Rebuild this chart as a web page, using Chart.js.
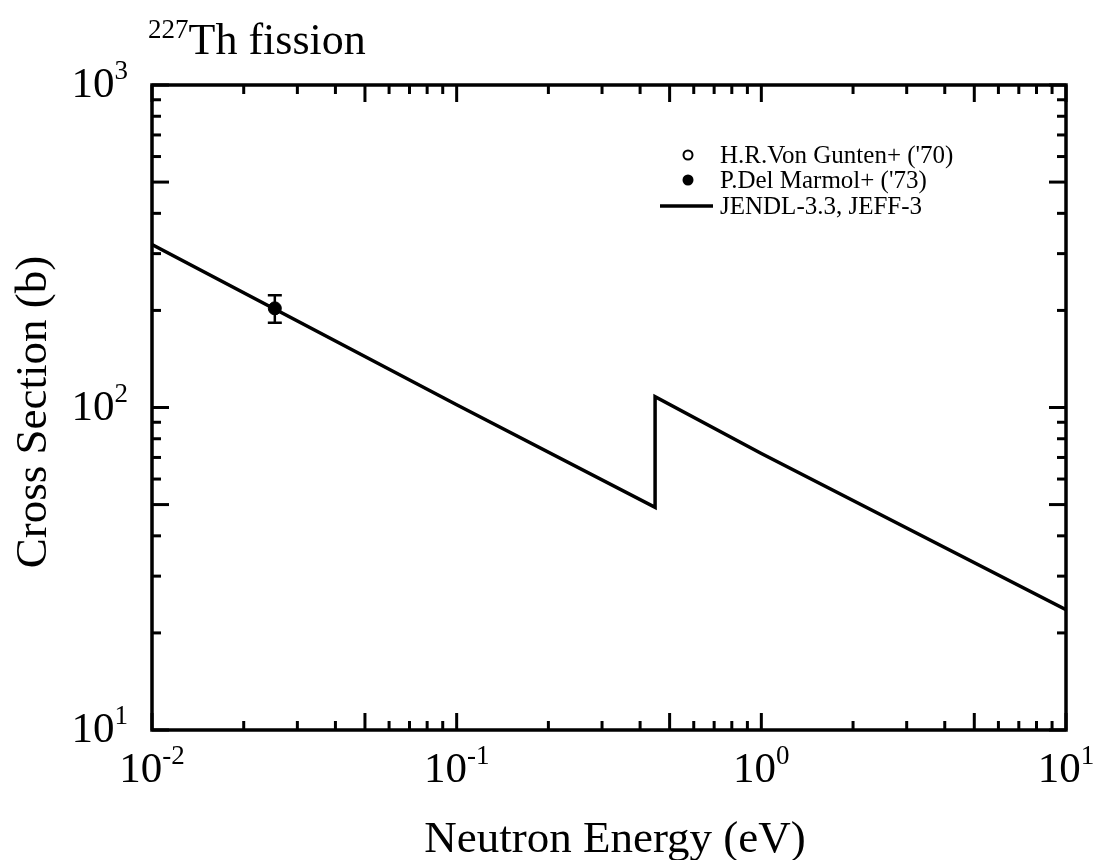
<!DOCTYPE html>
<html><head><meta charset="utf-8">
<script src="https://cdn.jsdelivr.net/npm/chart.js@4"></script>
<style>html,body{margin:0;padding:0;background:#fff}canvas{display:block}</style>
</head><body>
<canvas id="c" width="1110" height="860"></canvas>
<script>
'use strict';
// evaluated curve JENDL-3.3 / JEFF-3 (eV, b)
const EVAL_E=[0.01,0.1,0.448,0.448,1,10];
const EVAL_XS=[320,102,49,108,72,23.6];
// measured points
const MARMOL_E=[0.0253],MARMOL_XS=[203],MARMOL_ERR=[20];
const GUNTEN_E=[],GUNTEN_XS=[];
const X_DEC=[-2,-1,0,1],Y_DEC=[1,2,3];
const MINOR=[2,3,4,5,6,7,8,9];
const LEG=['H.R.Von Gunten+ (\'70)','P.Del Marmol+ (\'73)','JENDL-3.3, JEFF-3'];
const SERIF='"Liberation Serif","DejaVu Serif",serif';

const pts=(xs,ys)=>xs.map((x,i)=>({x,y:ys[i]}));

const frame={id:'frame',afterDatasetsDraw(ch){
  const c=ch.ctx,a=ch.chartArea,sx=ch.scales.x,sy=ch.scales.y;
  c.save();c.strokeStyle='#000';c.fillStyle='#000';
  // error bars
  c.lineWidth=2.5;
  MARMOL_E.forEach((e,i)=>{
    const px=sx.getPixelForValue(e),t=sy.getPixelForValue(MARMOL_XS[i]+MARMOL_ERR[i]),b=sy.getPixelForValue(MARMOL_XS[i]-MARMOL_ERR[i]);
    c.beginPath();c.moveTo(px,t);c.lineTo(px,b);c.moveTo(px-7,t);c.lineTo(px+7,t);c.moveTo(px-7,b);c.lineTo(px+7,b);c.stroke();
  });
  // ticks
  c.lineWidth=3;
  const tick=(x0,y0,dx,dy)=>{c.beginPath();c.moveTo(x0,y0);c.lineTo(x0+dx,y0+dy);c.stroke();};
  X_DEC.forEach(d=>{
    [1].concat(MINOR).forEach(m=>{
      const v=m*Math.pow(10,d);if(v<sx.min*0.999||v>sx.max*1.001)return;
      const px=sx.getPixelForValue(v),L=(m===1||m===5)?17:9;
      tick(px,a.bottom,0,-L);tick(px,a.top,0,L);
    });
  });
  Y_DEC.forEach(d=>{
    [1].concat(MINOR).forEach(m=>{
      const v=m*Math.pow(10,d);if(v<sy.min*0.999||v>sy.max*1.001)return;
      const py=sy.getPixelForValue(v),L=(m===1||m===5)?17:9;
      tick(a.left,py,L,0);tick(a.right,py,-L,0);
    });
  });
  c.lineWidth=3.5;c.strokeRect(a.left,a.top,a.right-a.left,a.bottom-a.top);
  // tick labels with superscripts
  const pow=(x,y,e,align)=>{
    c.font='43px '+SERIF;const w1=c.measureText('10').width;
    c.font='27px '+SERIF;const w2=c.measureText(e).width;
    let x0=align==='center'?x-(w1+w2)/2:x-(w1+w2);
    c.textAlign='left';c.textBaseline='alphabetic';
    c.font='43px '+SERIF;c.fillText('10',x0,y);
    c.font='27px '+SERIF;c.fillText(e,x0+w1,y-18);
  };
  X_DEC.forEach(d=>pow(sx.getPixelForValue(Math.pow(10,d)),782,String(d),'center'));
  Y_DEC.forEach(d=>pow(a.left-24,sy.getPixelForValue(Math.pow(10,d))+12,String(d),'right'));
  // titles
  c.textAlign='left';c.font='27px '+SERIF;c.fillText('227',148,38);
  const w227=c.measureText('227').width;
  c.font='44px '+SERIF;c.fillText('Th fission',148+w227,54);
  c.font='45px '+SERIF;c.textAlign='center';c.fillText('Neutron Energy (eV)',615,852);
  c.save();c.translate(46,412);c.rotate(-Math.PI/2);c.fillText('Cross Section (b)',0,0);c.restore();
  // legend
  c.font='25px '+SERIF;c.textAlign='left';c.textBaseline='middle';
  const lx=688,tx=720,ly=[155,180,206];
  c.lineWidth=2;c.beginPath();c.arc(lx,ly[0],4.5,0,Math.PI*2);c.stroke();
  c.beginPath();c.arc(lx,ly[1],5.5,0,Math.PI*2);c.fill();
  c.lineWidth=3.5;c.beginPath();c.moveTo(660,ly[2]);c.lineTo(713,ly[2]);c.stroke();
  LEG.forEach((t,i)=>c.fillText(t,tx,ly[i]+1));
  c.restore();
}};

new Chart(document.getElementById('c'),{
  type:'scatter',
  data:{datasets:[
    {label:LEG[2],data:pts(EVAL_E,EVAL_XS),showLine:true,borderColor:'#000',borderWidth:3.5,pointRadius:0,fill:false,tension:0},
    {label:LEG[1],data:pts(MARMOL_E,MARMOL_XS),pointRadius:6.5,pointBackgroundColor:'#000',pointBorderColor:'#000',showLine:false},
    {label:LEG[0],data:pts(GUNTEN_E,GUNTEN_XS),pointRadius:5,pointBackgroundColor:'#fff',pointBorderColor:'#000',pointBorderWidth:2,showLine:false}
  ]},
  options:{
    responsive:false,animation:false,
    layout:{padding:{left:152,top:85,right:44,bottom:130}},
    plugins:{legend:{display:false},tooltip:{enabled:false}},
    scales:{
      x:{type:'logarithmic',min:0.01,max:10,display:false},
      y:{type:'logarithmic',min:10,max:1000,display:false}
    }
  },
  plugins:[frame]
});
</script>
</body></html>
